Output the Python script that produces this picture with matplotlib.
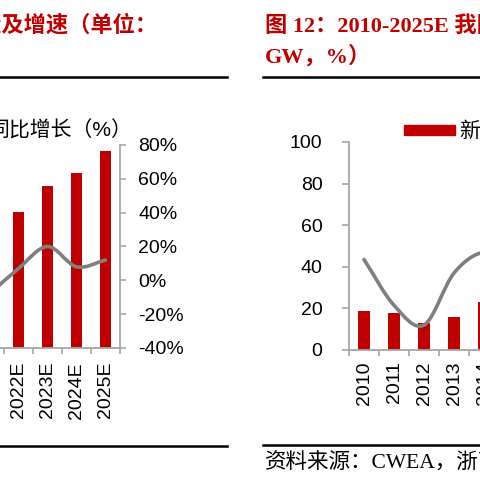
import numpy as np
import matplotlib.pyplot as plt
from matplotlib.path import Path
from matplotlib.patches import PathPatch, Rectangle
from matplotlib.lines import Line2D
from matplotlib.ticker import FuncFormatter

plt.rcParams['font.family'] = ['Liberation Sans', 'Noto Sans CJK SC']

# left chart (global new installations, only the right end is in view)
left_years = ['2021', '2022E', '2023E', '2024E', '2025E']
left_install = [93.6, 94, 112, 121, 136]   # GW
left_growth = [-8, 7, 20, 8, 12]           # %

# right chart (China new installations, only the left end is in view)
right_years = ['2010', '2011', '2012', '2013', '2014', '2015']
right_install = [18.9, 17.6, 13.0, 16.1, 23.2, 30.8]   # GW
right_growth = [37, -7, -26, 24, 44, 33]               # %

RED = '#C00000'
GREY = '#7F7F7F'
AXC = '#A6A6A6'
W = H = 480


def fx(px):
    return px / W


def fy(py):
    return 1 - py / H


def smooth_path(ys):
    # excel-like smoothed line: bezier segments through the data points
    pts = np.column_stack([np.arange(len(ys), dtype=float), np.asarray(ys, float)])
    tang = np.zeros_like(pts)
    tang[1:-1] = (pts[2:] - pts[:-2]) / 2
    tang[0] = pts[1] - pts[0]
    tang[-1] = pts[-1] - pts[-2]
    verts = [pts[0]]
    codes = [Path.MOVETO]
    for i in range(len(pts) - 1):
        verts += [pts[i] + tang[i] / 3, pts[i + 1] - tang[i + 1] / 3, pts[i + 1]]
        codes += [Path.CURVE4] * 3
    return Path(verts, codes)


def style_x(ax, labels):
    n = len(labels)
    ax.set_xlim(-0.5, n - 0.5)
    ax.set_xticks(np.arange(n))
    ax.set_xticklabels(labels, rotation=90, fontsize=14)
    ax.set_xticks(np.arange(-0.5, n, 1), minor=True)
    ax.tick_params(axis='x', which='major', length=0, pad=10)
    ax.tick_params(axis='x', which='minor', length=4, width=1.2, color=AXC, direction='out')
    for s in ['top', 'right']:
        ax.spines[s].set_visible(False)
    for s in ['bottom', 'left']:
        ax.spines[s].set_color(AXC)
        ax.spines[s].set_linewidth(1.3)


fig = plt.figure(figsize=(4.8, 4.8), dpi=100)

# ---- left chart
ax1 = fig.add_axes([fx(-25), fy(348), 145 / W, 203 / H])
x1 = np.arange(len(left_years))
ax1.bar(x1, left_install, width=0.4, color=RED, zorder=2)
ax1.set_ylim(0, 140)
style_x(ax1, left_years)
ax1.tick_params(axis='y', length=4, color=AXC, labelleft=False)

ax1b = ax1.twinx()
ax1b.add_patch(PathPatch(smooth_path(left_growth), fill=False, edgecolor=GREY,
                         lw=2.6, capstyle='round'))
ax1b.set_ylim(-40, 80)
ax1b.set_yticks(range(-40, 81, 20))
ax1b.yaxis.set_major_formatter(FuncFormatter(lambda v, p: f'{v:.0f}%'))
ax1b.tick_params(axis='y', length=4, width=1.2, color=AXC, labelsize=14, pad=9)
for s in ['top', 'left', 'bottom']:
    ax1b.spines[s].set_visible(False)
ax1b.spines['right'].set_color(AXC)
ax1b.spines['right'].set_linewidth(1.3)

# ---- right chart
ax2 = fig.add_axes([fx(349), fy(350), 180 / W, 208 / H])
x2 = np.arange(len(right_years))
ax2.bar(x2, right_install, width=0.4, color=RED, zorder=2)
ax2.set_ylim(0, 100)
ax2.set_yticks(range(0, 101, 20))
style_x(ax2, right_years)
ax2.tick_params(axis='x', which='major', pad=8)
ax2.tick_params(axis='y', length=5, width=1.2, color=AXC, labelsize=14, pad=14)

ax2b = ax2.twinx()
ax2b.add_patch(PathPatch(smooth_path(right_growth), fill=False, edgecolor=GREY,
                         lw=2.6, capstyle='round'))
ax2b.set_ylim(-50, 150)
for s in ['top', 'left', 'bottom', 'right']:
    ax2b.spines[s].set_visible(False)
ax2b.tick_params(axis='y', length=0, labelright=False)

# ---- titles, rules, legends, source
title_kw = dict(family=['Liberation Serif', 'Noto Sans CJK SC'], weight='bold',
                color=RED, size=16, va='center')
fig.text(fx(157), fy(26), '图 11：2015-2025E 全球风电新增装机量及增速（单位：',
         ha='right', **title_kw)
fig.text(fx(265), fy(26), '图 12：2010-2025E 我国风电新增装机量及增速（单位：',
         ha='left', **title_kw)
fig.text(fx(265), fy(56), 'GW，%）', ha='left', **title_kw)

for x0, x1_, yy in [(0, 227, 77), (263, 480, 77), (0, 227, 446), (263, 480, 445)]:
    fig.add_artist(Line2D([fx(x0), fx(x1_)], [fy(yy), fy(yy)],
                          transform=fig.transFigure, color='black', lw=1.8))

fig.text(fx(-12), fy(131), '同比增长（%）', ha='left', va='center', size=15)
fig.patches.append(Rectangle((fx(404), fy(135)), 51 / W, 10 / H,
                             transform=fig.transFigure, color=RED, figure=fig))
fig.text(fx(459), fy(131), '新增装机量（GW）', ha='left', va='center', size=15)

fig.text(fx(265), fy(462), '资料来源：CWEA，浙商证券研究所', ha='left', va='center',
         size=15.5, family=['Liberation Serif', 'Noto Sans CJK SC'])

fig.savefig('out.png', dpi=100)
